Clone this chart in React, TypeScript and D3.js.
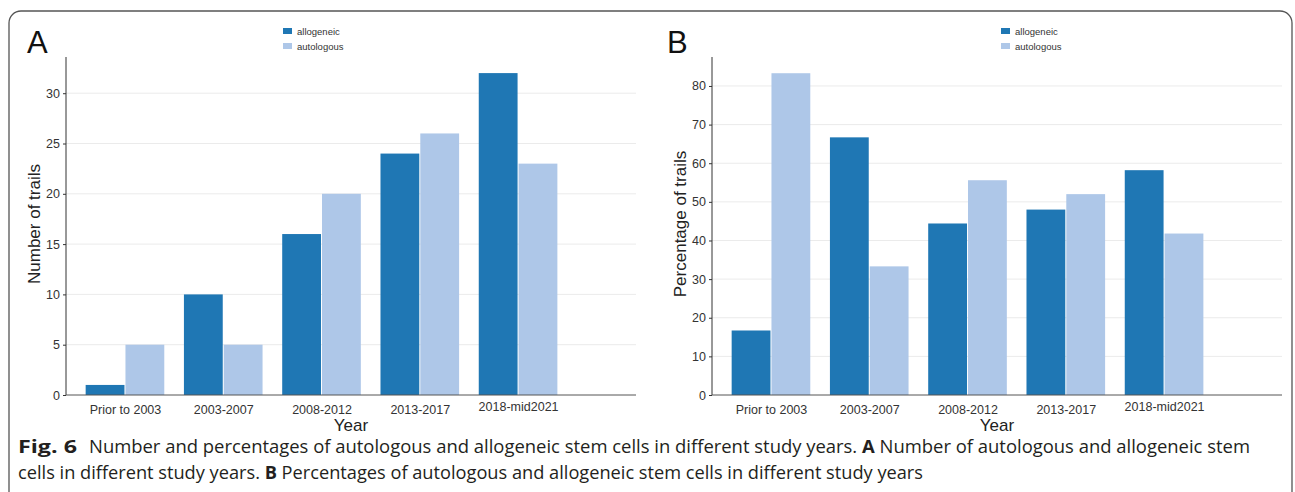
import React, { useEffect, useRef } from "react";
import * as d3 from "d3";

const W = 1295;
const H = 492;

const categories = ["Prior to 2003", "2003-2007", "2008-2012", "2013-2017", "2018-mid2021"];
const seriesNames = ["allogeneic", "autologous"];
const countAllo = [1, 10, 16, 24, 32];
const countAuto = [5, 5, 20, 26, 23];
const pctAllo = [16.7, 66.7, 44.4, 48.0, 58.2];
const pctAuto = [83.3, 33.3, 55.6, 52.0, 41.8];
const countTicks = [0, 5, 10, 15, 20, 25, 30];
const pctTicks = [0, 10, 20, 30, 40, 50, 60, 70, 80];

const COLORS = ["#1f77b4", "#aec7e8"];
const FONT = "'Liberation Sans', Arial, sans-serif";

type Panel = {
  letter: string;
  yTitle: string;
  allo: number[];
  auto: number[];
  ticks: number[];
  yMax: number;
  x0: number;
  x1: number;
  legendX: number;
};

const panels: Panel[] = [
  { letter: "A", yTitle: "Number of trails", allo: countAllo, auto: countAuto, ticks: countTicks, yMax: 33.6, x0: 66, x1: 636, legendX: 283 },
  { letter: "B", yTitle: "Percentage of trails", allo: pctAllo, auto: pctAuto, ticks: pctTicks, yMax: 87.5, x0: 712, x1: 1282, legendX: 1001 },
];

export default function App() {
  const ref = useRef<SVGSVGElement>(null);

  useEffect(() => {
    const svg = d3.select(ref.current);
    svg.selectAll("*").remove();

    // 外枠
    svg.append("rect")
      .attr("x", 9).attr("y", 11)
      .attr("width", 1283).attr("height", 520)
      .attr("rx", 12)
      .attr("fill", "#fff")
      .attr("stroke", "#555")
      .attr("stroke-width", 1.3);

    const top = 57;
    const bottom = 395;

    panels.forEach((p, pi) => {
      const g = svg.append("g");
      const x = d3.scaleLinear().domain([-0.6, 5.2]).range([p.x0, p.x1]);
      const y = d3.scaleLinear().domain([0, p.yMax]).range([bottom, top]);
      const bw = x(0.4) - x(0);

      // grid
      g.selectAll("line.grid")
        .data(p.ticks.filter((t) => t > 0))
        .join("line")
        .attr("x1", p.x0).attr("x2", p.x1)
        .attr("y1", (d) => y(d)).attr("y2", (d) => y(d))
        .attr("stroke", "#ebebeb").attr("stroke-width", 1);

      // bars
      const rows = categories.map((c, i) => ({ i, allo: p.allo[i], auto: p.auto[i] }));
      g.selectAll("rect.allo")
        .data(rows)
        .join("rect")
        .attr("x", (d) => x(d.i) - bw)
        .attr("y", (d) => y(d.allo))
        .attr("width", bw - 0.5)
        .attr("height", (d) => bottom - y(d.allo))
        .attr("fill", COLORS[0]);
      g.selectAll("rect.auto")
        .data(rows)
        .join("rect")
        .attr("x", (d) => x(d.i) + 0.5)
        .attr("y", (d) => y(d.auto))
        .attr("width", bw - 0.5)
        .attr("height", (d) => bottom - y(d.auto))
        .attr("fill", COLORS[1]);

      // y axis
      const ya = g.append("g")
        .attr("transform", `translate(${p.x0},0)`)
        .call(d3.axisLeft(y).tickValues(p.ticks).tickSize(3).tickPadding(3));
      ya.select(".domain").remove();
      ya.selectAll("line").attr("stroke", "#333");
      ya.selectAll("text").attr("font-family", FONT).attr("font-size", 12.5).attr("fill", "#333");
      g.append("line")
        .attr("x1", p.x0).attr("x2", p.x0)
        .attr("y1", top).attr("y2", bottom)
        .attr("stroke", "#333");

      // x axis
      const xa = g.append("g")
        .attr("transform", `translate(0,${bottom})`)
        .call(
          d3.axisBottom(x)
            .tickValues(categories.map((_, i) => i))
            .tickFormat((d) => categories[d as number])
            .tickSize(0)
            .tickPadding(10)
        );
      xa.select(".domain").remove();
      xa.selectAll("text")
        .attr("font-family", FONT).attr("font-size", 12.5).attr("fill", "#333")
        .attr("dy", (d) => ((d as number) === 4 ? "0.45em" : "0.71em"));
      g.append("line")
        .attr("x1", p.x0).attr("x2", p.x1)
        .attr("y1", bottom).attr("y2", bottom)
        .attr("stroke", "#555");

      // titles
      g.append("text")
        .attr("x", (p.x0 + p.x1) / 2).attr("y", 431)
        .attr("text-anchor", "middle")
        .attr("font-family", FONT).attr("font-size", 17).attr("fill", "#222")
        .text("Year");
      g.append("text")
        .attr("transform", `translate(${p.x0 - 26},${(top + bottom) / 2 - 2}) rotate(-90)`)
        .attr("text-anchor", "middle")
        .attr("font-family", FONT).attr("font-size", 17).attr("fill", "#222")
        .text(p.yTitle);
      g.append("text")
        .attr("x", pi === 0 ? 27 : 667).attr("y", 53)
        .attr("font-family", FONT).attr("font-size", 31).attr("fill", "#111")
        .text(p.letter);

      // legend
      const lg = g.append("g").attr("transform", `translate(${p.legendX},0)`);
      seriesNames.forEach((s, k) => {
        lg.append("rect")
          .attr("x", 0).attr("y", 28 + k * 15)
          .attr("width", 9).attr("height", 6)
          .attr("fill", COLORS[k]);
        lg.append("text")
          .attr("x", 14).attr("y", 35 + k * 15)
          .attr("font-family", FONT).attr("font-size", 9.5).attr("fill", "#333")
          .text(s);
      });
    });

    // caption
    const cap = "'Liberation Sans Narrow', 'Open Sans', sans-serif";
    svg.append("text")
      .attr("x", 18).attr("y", 453)
      .attr("font-family", cap).attr("font-size", 18).attr("font-weight", "bold").attr("fill", "#231f20")
      .attr("textLength", 59).attr("lengthAdjust", "spacingAndGlyphs")
      .text("Fig. 6");
    const l1 = svg.append("text")
      .attr("x", 89).attr("y", 453)
      .attr("font-family", cap).attr("font-size", 18).attr("fill", "#231f20")
      .attr("textLength", 1161).attr("lengthAdjust", "spacingAndGlyphs");
    l1.append("tspan").text("Number and percentages of autologous and allogeneic stem cells in different study years. ");
    l1.append("tspan").attr("font-weight", "bold").text("A");
    l1.append("tspan").text(" Number of autologous and allogeneic stem");

    const l2 = svg.append("text")
      .attr("x", 18).attr("y", 479)
      .attr("font-family", cap).attr("font-size", 18).attr("fill", "#231f20")
      .attr("textLength", 905).attr("lengthAdjust", "spacingAndGlyphs");
    l2.append("tspan").text("cells in different study years. ");
    l2.append("tspan").attr("font-weight", "bold").text("B");
    l2.append("tspan").text(" Percentages of autologous and allogeneic stem cells in different study years");
  }, []);

  return (
    <svg
      ref={ref}
      width={W}
      height={H}
      style={{ position: "absolute", left: 0, top: 0, background: "#fff" }}
    />
  );
}
